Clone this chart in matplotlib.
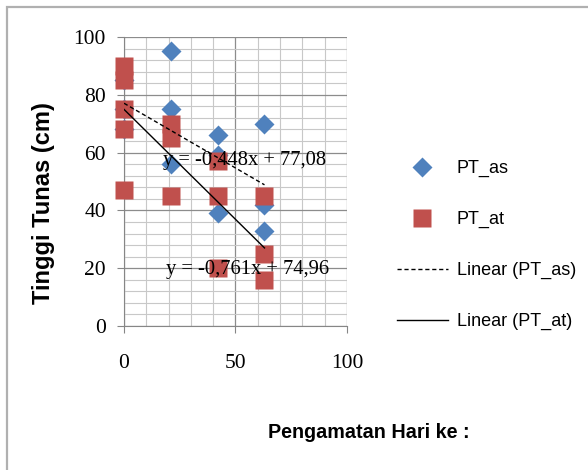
import numpy as np
import matplotlib.pyplot as plt
from matplotlib.patches import Rectangle
from matplotlib.ticker import MultipleLocator

# Hari pengamatan dan tinggi tunas (cm) tiap perlakuan
hari_as = [0, 0, 0, 21, 21, 21, 42, 42, 42, 63, 63, 63]
pt_as = [85, 75, 68, 95, 75, 56, 66, 59, 39, 70, 42, 33]

hari_at = [0, 0, 0, 0, 0, 21, 21, 21, 42, 42, 42, 63, 63, 63]
pt_at = [90, 85, 75, 68, 47, 70, 65, 45, 57, 45, 20, 45, 25, 16]

# Koefisien garis tren linear (slope, intercept)
tren_as = [-0.448, 77.08]
tren_at = [-0.761, 74.96]
hari_tren = [0, 63]

serif = ['Liberation Serif', 'DejaVu Serif']
sans = ['Liberation Sans', 'DejaVu Sans']

fig = plt.figure(figsize=(5.88, 4.70), dpi=100)
ax = fig.add_axes([124 / 588, 1 - 326 / 470, 223 / 588, 289 / 470])

ax.set_xlim(0, 100)
ax.set_ylim(0, 100)
ax.xaxis.set_major_locator(MultipleLocator(50))
ax.xaxis.set_minor_locator(MultipleLocator(10))
ax.yaxis.set_major_locator(MultipleLocator(20))
ax.yaxis.set_minor_locator(MultipleLocator(4))
ax.grid(which='minor', color='#c8c8c8', lw=0.8)
ax.grid(which='major', color='#8c8c8c', lw=0.9)
ax.set_axisbelow(True)

for s in ['top', 'right']:
    ax.spines[s].set_visible(False)
for s in ['left', 'bottom']:
    ax.spines[s].set_color('#868686')
ax.tick_params(which='minor', length=0)
ax.tick_params(which='major', length=5, color='#868686', direction='out')
ax.tick_params(axis='x', pad=15)
ax.tick_params(axis='y', pad=8)
for lbl in ax.get_xticklabels() + ax.get_yticklabels():
    lbl.set_family(serif)
    lbl.set_fontsize(15.5)

# Titik data
ax.plot(hari_as, pt_as, 'D', color='#4f81bd', ms=10.5, mec='none',
        label='PT_as', clip_on=False, zorder=3)
ax.plot(hari_at, pt_at, 's', color='#c0504d', ms=13.5, mec='none',
        label='PT_at', clip_on=False, zorder=4)

# Garis tren dari persamaan
xt = np.array(hari_tren)
ax.plot(xt, tren_as[0] * xt + tren_as[1], color='black', lw=1,
        ls=(0, (3, 2)), label='Linear (PT_as)', zorder=5)
ax.plot(xt, tren_at[0] * xt + tren_at[1], color='black', lw=1,
        label='Linear (PT_at)', zorder=5)

def persamaan(c):
    teks = 'y = %.3fx + %.2f' % (c[0], c[1])
    return teks.replace('.', ',')

ax.text(17.5, 57.4, persamaan(tren_as), family=serif, fontsize=14.8,
        va='center', ha='left', zorder=6)
ax.text(18.8, 19.5, persamaan(tren_at), family=serif, fontsize=14.8,
        va='center', ha='left', zorder=6)

ax.set_ylabel('Tinggi Tunas (cm)', family=sans, fontsize=17,
              fontweight='bold')
ax.yaxis.set_label_coords(-0.31, 0.425)
fig.text(369 / 588, 1 - 432 / 470, 'Pengamatan Hari ke :', family=sans,
         fontsize=14.2, fontweight='bold', ha='center', va='center')

handles, labels = ax.get_legend_handles_labels()
fig.legend(handles, labels, loc='upper left',
           bbox_to_anchor=(397 / 588, 1 - 160 / 470), frameon=False,
           borderpad=0, borderaxespad=0, handlelength=2.8,
           handletextpad=0.5, labelspacing=1.87, numpoints=1,
           prop={'family': sans, 'size': 13})

# Bingkai area grafik
fig.patches.append(Rectangle((7 / 588, -0.1), 1.0, 1.1 - 7 / 470,
                             transform=fig.transFigure, fill=False,
                             ec='#b0b0b0', lw=1.6))

plt.savefig('out.png', dpi=100)
plt.close()
